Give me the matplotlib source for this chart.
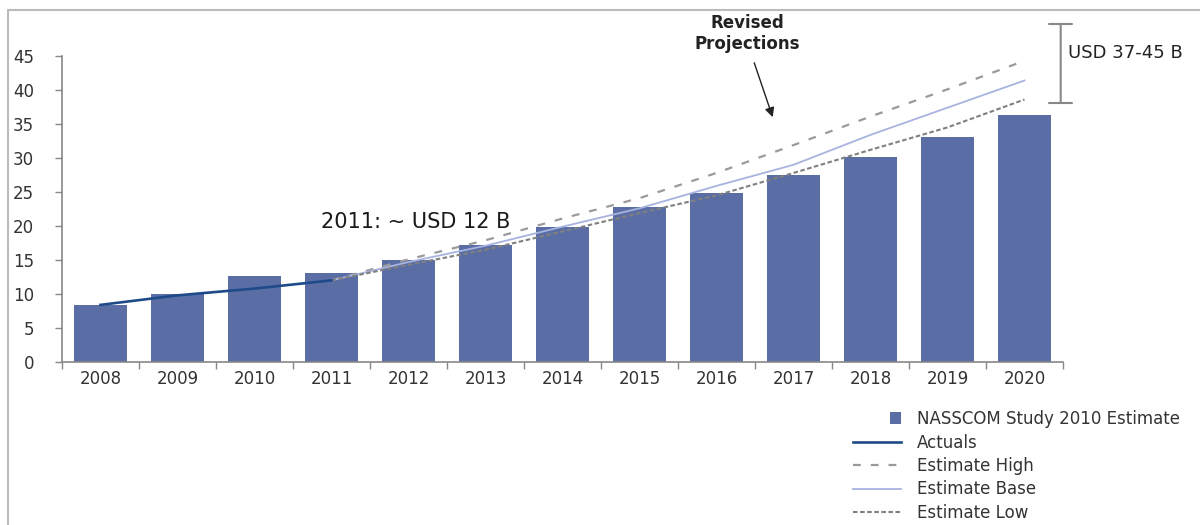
import matplotlib
matplotlib.use("Agg")
import matplotlib.pyplot as plt
from matplotlib.patches import Rectangle
from matplotlib.legend_handler import HandlerPatch
from matplotlib.container import BarContainer

years = ["2008", "2009", "2010", "2011", "2012", "2013", "2014",
         "2015", "2016", "2017", "2018", "2019", "2020"]
nasscom_2010 = [8.4, 10.0, 12.6, 13.1, 15.0, 17.2, 19.9, 22.8, 24.9, 27.5, 30.2, 33.1, 36.3]

actual_years = ["2008", "2009", "2010", "2011"]
actuals = [8.4, 9.8, 10.8, 12.0]

est_years = ["2011", "2012", "2013", "2014", "2015", "2016", "2017", "2018", "2019", "2020"]
est_high = [12.0, 15.1, 17.9, 21.1, 24.1, 27.8, 31.9, 36.1, 40.1, 44.3]
est_base = [12.0, 14.7, 17.1, 19.9, 22.6, 25.9, 29.0, 33.4, 37.4, 41.4]
est_low = [12.0, 14.3, 16.5, 19.2, 21.9, 24.5, 27.8, 31.2, 34.5, 38.6]

yticks = [0, 5, 10, 15, 20, 25, 30, 35, 40, 45]

BAR = "#5A6EA5"
ACT = "#1F4A8A"
HIGH = "#9A9A9A"
BASE = "#A8B3DF"
LOW = "#808080"
TXT = "#333333"

plt.rcParams["font.family"] = ["DejaVu Sans"]

fig = plt.figure(figsize=(12, 5.25), dpi=100)
ax = fig.add_axes([62 / 1200, 1 - 362 / 525, (1063 - 62) / 1200, (362 - 56) / 525])

xpos = {y: i for i, y in enumerate(years)}
x = [xpos[y] for y in years]
bars = ax.bar(x, nasscom_2010, width=0.69, color=BAR, zorder=2,
              label="NASSCOM Study 2010 Estimate")
l_act, = ax.plot([xpos[y] for y in actual_years], actuals, color=ACT, lw=1.9, zorder=4,
                 label="Actuals")
ex = [xpos[y] for y in est_years]
l_high, = ax.plot(ex, est_high, color=HIGH, lw=1.6, ls=(0, (3.5, 4.5)), zorder=3,
                  label="Estimate High")
l_base, = ax.plot(ex, est_base, color=BASE, lw=1.3, zorder=3, label="Estimate Base")
l_low, = ax.plot(ex, est_low, color=LOW, lw=1.5, ls=(0, (2.2, 1.2)), zorder=3,
                 label="Estimate Low")

ax.set_xlim(-0.5, 12.5)
ax.set_ylim(0, 45)
ax.set_yticks(yticks)
ax.set_yticklabels([str(v) for v in yticks])
ax.set_xticks(x)
ax.set_xticklabels(years)
ax.set_xticks([i - 0.5 for i in range(len(years) + 1)], minor=True)
ax.tick_params(axis="x", which="major", length=0, pad=6, labelsize=12, colors=TXT)
ax.tick_params(axis="x", which="minor", length=5, width=1, color="#888888")
ax.tick_params(axis="y", length=5, width=1, color="#888888", pad=15,
               labelsize=12, labelcolor=TXT)
for s in ["top", "right"]:
    ax.spines[s].set_visible(False)
for s in ["left", "bottom"]:
    ax.spines[s].set_color("#888888")
    ax.spines[s].set_linewidth(1.2)

# annotations
ax.text(2.86, 20.6, "2011: ~ USD 12 B", fontsize=15, color="#1a1a1a",
        ha="left", va="center")
ax.text(8.40, 48.3, "Revised\nProjections", fontsize=12, fontweight="bold",
        color="#222222", ha="center", va="center", linespacing=1.2, clip_on=False)
ax.annotate("", xy=(8.73, 36.0), xytext=(8.49, 44.0),
            arrowprops=dict(arrowstyle="-|>", color="#222222", lw=1.0,
                            mutation_scale=14, shrinkA=0, shrinkB=0),
            annotation_clip=False)
ax.annotate("", xy=(12.47, 38.1), xytext=(12.47, 49.7),
            arrowprops=dict(arrowstyle="|-|,widthA=0.6,widthB=0.6", color="#888888",
                            lw=1.5, shrinkA=0, shrinkB=0, mutation_scale=14),
            annotation_clip=False)
ax.text(12.57, 45.4, "USD 37-45 B", fontsize=13, color="#222222",
        ha="left", va="center", clip_on=False)

# figure frame (partially visible)
fig.add_artist(Rectangle((8 / 1200, -0.1), 1.2, 1.1 - 10 / 525, transform=fig.transFigure,
                         fill=False, ec="#BBBBBB", lw=1.5))


class RightSquare(HandlerPatch):
    def legend_artist(self, legend, orig_handle, fontsize, handlebox):
        s = handlebox.height * 1.0
        p = Rectangle((handlebox.width - handlebox.xdescent - s,
                       -handlebox.ydescent + (handlebox.height - s) / 2), s, s,
                      facecolor=BAR, edgecolor="none",
                      transform=handlebox.get_transform())
        handlebox.add_artist(p)
        return p


handles = [bars, l_act, l_high, l_base, l_low]
labels = [h.get_label() for h in handles]
leg = fig.legend(handles, labels, loc="upper left",
                 bbox_to_anchor=(853 / 1200, 1 - 410 / 525), frameon=False,
                 fontsize=12, handlelength=2.9, handletextpad=0.95,
                 labelspacing=0.33, borderpad=0, borderaxespad=0,
                 handler_map={BarContainer: RightSquare()})
for t in leg.get_texts():
    t.set_color(TXT)

fig.savefig("out.png", dpi=100, facecolor="white")
